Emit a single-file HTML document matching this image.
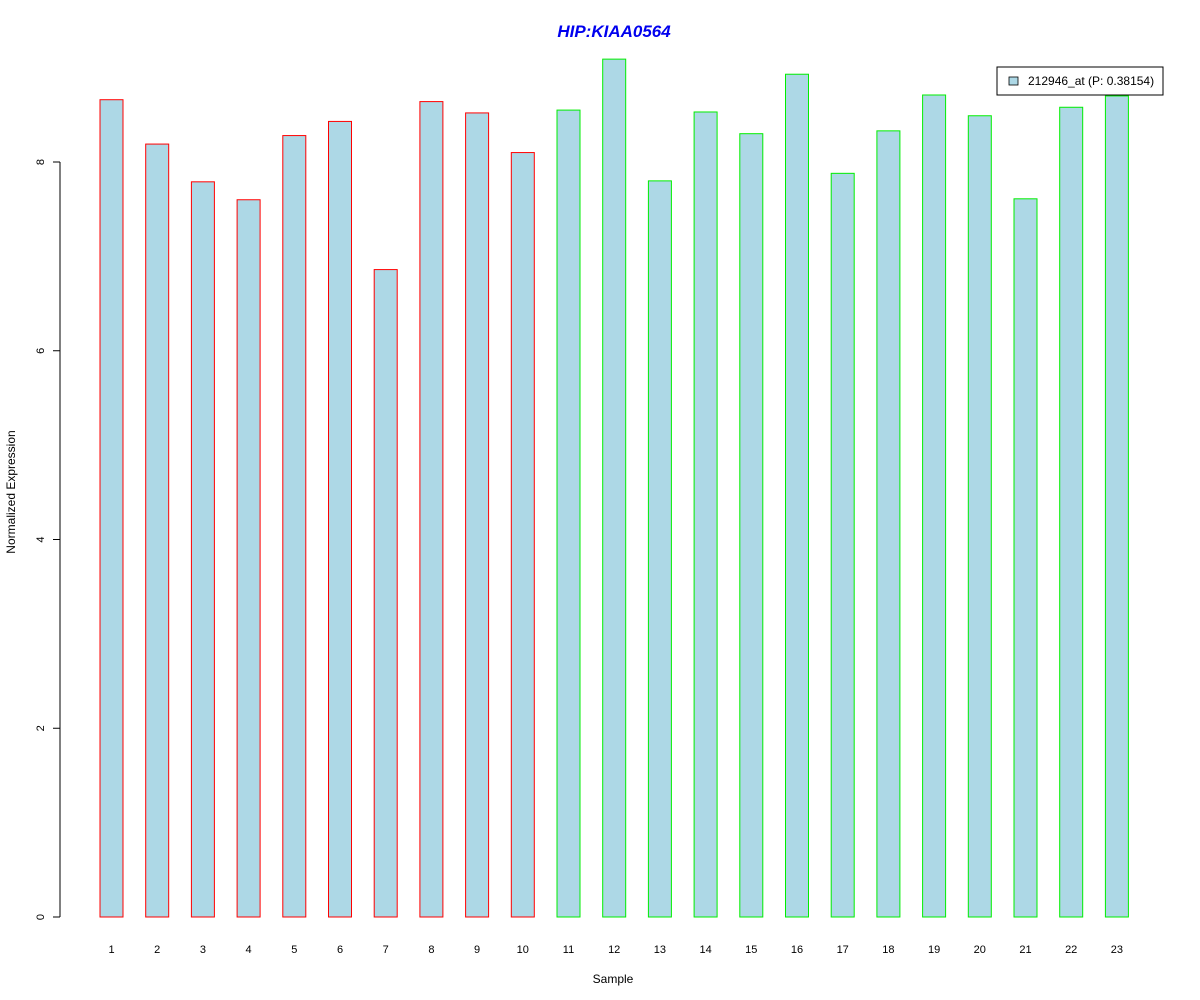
<!DOCTYPE html>
<html><head><meta charset="utf-8"><style>
body{margin:0;background:#fff;}
svg{display:block;font-family:"Liberation Sans",Arial,sans-serif;}
</style></head><body>
<svg id="chart" width="1200" height="1000" xmlns="http://www.w3.org/2000/svg">
<text x="614" y="37" text-anchor="middle" font-size="17" font-weight="bold" font-style="italic" fill="#0000ee">HIP:KIAA0564</text>
<text x="613" y="983" text-anchor="middle" font-size="12">Sample</text>
<text transform="translate(15,492) rotate(-90)" text-anchor="middle" font-size="12">Normalized Expression</text>
<g id="bars"></g>
<g id="yaxis"></g>
<g id="xlabels"></g>
<g>
<rect x="997" y="67" width="166" height="28" fill="#fff" stroke="#000" stroke-width="1"/>
<rect x="1009" y="77" width="9" height="8" fill="#add8e6" stroke="#000" stroke-width="0.8"/>
<text x="1028" y="85" font-size="12">212946_at (P: 0.38154)</text>
</g>
</svg>
<script>
const categories = ["1","2","3","4","5","6","7","8","9","10","11","12","13","14","15","16","17","18","19","20","21","22","23"];
const values = [8.66,8.19,7.79,7.60,8.28,8.43,6.86,8.64,8.52,8.10,8.55,9.09,7.80,8.53,8.30,8.93,7.88,8.33,8.71,8.49,7.61,8.58,8.70];
const groups = ["a","a","a","a","a","a","a","a","a","a","b","b","b","b","b","b","b","b","b","b","b","b","b"];
const yTicks = [0,2,4,6,8];
const NS = "http://www.w3.org/2000/svg";
function y(v){return 917 - v*94.375;}
function xc(i){return 111.5 + i*45.7;}
const bars = document.getElementById('bars');
values.forEach((v,i)=>{
  const r = document.createElementNS(NS,'rect');
  
  
  r.setAttribute('x',xc(i)-11.5);
  r.setAttribute('y',y(v));
  r.setAttribute('width',23);
  r.setAttribute('height',y(0)-y(v));
  r.setAttribute('fill','#add8e6');
  r.setAttribute('stroke',groups[i]==='a'?'#ff0000':'#00ee00');
  r.setAttribute('stroke-width','1');
  bars.appendChild(r);
  const t = document.createElementNS(NS,'text');
  
  
  t.setAttribute('x',xc(i));
  t.setAttribute('y',953);
  t.setAttribute('text-anchor','middle');
  t.setAttribute('font-size','11');
  t.textContent = categories[i];
  document.getElementById('xlabels').appendChild(t);
});
const ya = document.getElementById('yaxis');
const ax = document.createElementNS(NS,'line');


ax.setAttribute('x1',60);ax.setAttribute('x2',60);
ax.setAttribute('y1',y(yTicks[yTicks.length-1]));ax.setAttribute('y2',y(yTicks[0]));
ax.setAttribute('stroke','#000');
ya.appendChild(ax);
yTicks.forEach(v=>{
  const l = document.createElementNS(NS,'line');
  
  
  l.setAttribute('x1',53);l.setAttribute('x2',60);
  l.setAttribute('y1',y(v));l.setAttribute('y2',y(v));
  l.setAttribute('stroke','#000');
  ya.appendChild(l);
  const t = document.createElementNS(NS,'text');
  
  
  t.setAttribute('transform','translate(44,'+y(v)+') rotate(-90)');
  t.setAttribute('text-anchor','middle');
  t.setAttribute('font-size','11');
  t.textContent = v;
  ya.appendChild(t);
});
</script>
</body></html>
